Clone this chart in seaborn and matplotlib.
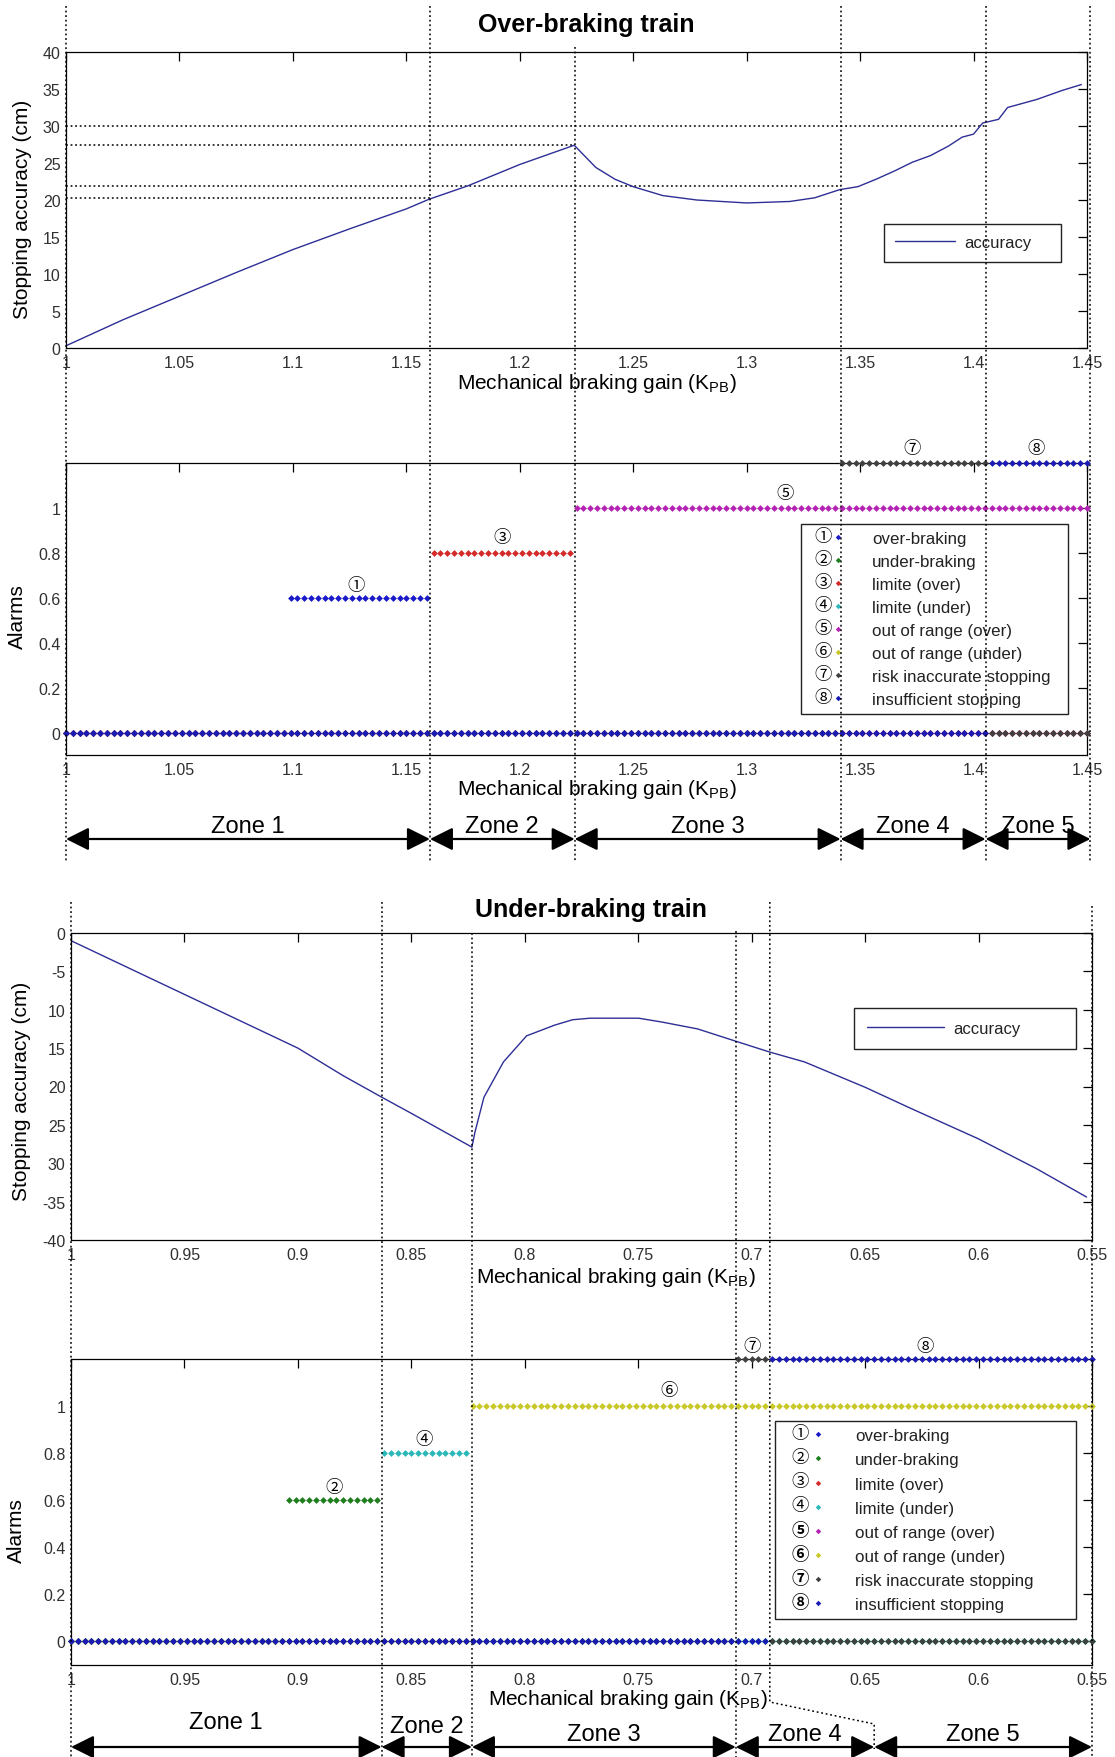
import numpy as np
import matplotlib
matplotlib.use("Agg")
import matplotlib.pyplot as plt
import matplotlib.transforms as mtransforms
from matplotlib.lines import Line2D
from matplotlib.patches import FancyArrowPatch, ArrowStyle
import seaborn as sns

# ---------------------------------------------------------------- data
# Over-braking train: stopping accuracy vs mechanical braking gain
over_gain = [1.000, 1.025, 1.050, 1.075, 1.100, 1.125, 1.150, 1.160, 1.177, 1.200, 1.224,
             1.2335, 1.242, 1.250, 1.263, 1.278, 1.300, 1.319, 1.330, 1.341, 1.349, 1.357,
             1.365, 1.373, 1.381, 1.389, 1.395, 1.400, 1.404, 1.411, 1.415, 1.428, 1.439, 1.4475]
over_accuracy = [0.3, 3.8, 7.0, 10.2, 13.3, 16.1, 18.8, 20.1, 21.9, 24.8, 27.4,
                 24.4, 22.8, 21.8, 20.6, 20.0, 19.6, 19.8, 20.3, 21.4, 21.8, 22.8,
                 23.9, 25.1, 26.0, 27.3, 28.5, 28.9, 30.4, 30.9, 32.5, 33.6, 34.8, 35.6]
over_ref_levels = [30.0, 27.4, 21.9, 20.3]
over_ref_ends = [1.4053, 1.2242, 1.3414, 1.1604]
over_zone_edges = [1.0, 1.1604, 1.2242, 1.3414, 1.4053, 1.4515]
over_xticks = [1.0, 1.05, 1.1, 1.15, 1.2, 1.25, 1.3, 1.35, 1.4, 1.45]
over_xticklabels = ["1", "1.05", "1.1", "1.15", "1.2", "1.25", "1.3", "1.35", "1.4", "1.45"]
over_yticks = [0, 5, 10, 15, 20, 25, 30, 35, 40]
over_yticklabels = ["0", "5", "10", "15", "20", "25", "30", "35", "40"]

# Under-braking train
under_gain = [1.000, 0.975, 0.950, 0.925, 0.900, 0.880, 0.863, 0.850, 0.8233, 0.822, 0.818,
              0.8094, 0.7992, 0.7868, 0.7789, 0.7711, 0.7498, 0.7396, 0.7238, 0.707, 0.6922,
              0.6767, 0.650, 0.6295, 0.6002, 0.5745, 0.5524]
under_accuracy = [-1.0, -4.5, -8.0, -11.5, -15.0, -18.6, -21.4, -23.5, -27.9, -26.0, -21.4,
                  -16.8, -13.4, -12.0, -11.3, -11.1, -11.1, -11.6, -12.5, -14.1, -15.5,
                  -16.8, -20.1, -22.9, -26.8, -30.7, -34.4]
under_zone_edges = [1.0, 0.8631, 0.8233, 0.707, 0.646, 0.55]
under_alarm_split = 0.692
under_xticks = [1.0, 0.95, 0.9, 0.85, 0.8, 0.75, 0.7, 0.65, 0.6, 0.55]
under_xticklabels = ["1", "0.95", "0.9", "0.85", "0.8", "0.75", "0.7", "0.65", "0.6", "0.55"]
under_yticks = [0, -5, -10, -15, -20, -25, -30, -35, -40]
under_yticklabels = ["0", "-5", "10", "15", "20", "25", "30", "-35", "-40"]

alarm_yticks = [0, 0.2, 0.4, 0.6, 0.8, 1.0]
alarm_yticklabels = ["0", "0.2", "0.4", "0.6", "0.8", "1"]

# Alarms (sampled every 0.003 of gain); each alarm is on over a gain range
alarm_step = 0.003
alarm_count = 151
over_alarm_ids = ["①", "③", "⑤", "⑦", "⑧"]
over_alarm_levels = [0.6, 0.8, 1.0, 1.2, 1.2]
over_alarm_ranges = [(1.097, 1.1595), (1.1596, 1.2242), (1.2243, 1.451),
                     (1.3414, 1.4053), (1.4054, 1.451)]
over_alarm_label_x = [1.128, 1.192, 1.317, 1.373, 1.4275]
over_alarm_label_y = [0.655, 0.87, 1.067, 1.265, 1.265]

under_alarm_ids = ["②", "④", "⑥", "⑦", "⑧"]
under_alarm_levels = [0.6, 0.8, 1.0, 1.2, 1.2]
under_alarm_ranges = [(0.8631, 0.905), (0.8233, 0.8630), (0.549, 0.8232),
                      (0.6925, 0.7071), (0.549, 0.6924)]
under_alarm_label_x = [0.884, 0.8445, 0.7366, 0.6998, 0.6235]
under_alarm_label_y = [0.657, 0.86, 1.068, 1.254, 1.254]

legend_ids = ["①", "②", "③", "④", "⑤", "⑥", "⑦", "⑧"]
legend_labels = ["over-braking", "under-braking", "limite (over)", "limite (under)",
                 "out of range (over)", "out of range (under)",
                 "risk inaccurate stopping", "insufficient stopping"]
alarm_colors = {"①": "#1a1ac8", "②": "#1f7f1f", "③": "#d42a2a", "④": "#2ab8b8",
                "⑤": "#b424b4", "⑥": "#c8c828", "⑦": "#404040", "⑧": "#1a1ab4"}

# ---------------------------------------------------------------- style
sns.set_theme(style="white")
plt.rcParams.update({
    "font.family": ["Liberation Sans", "DejaVu Sans"],
    "mathtext.fontset": "custom",
    "mathtext.rm": "Liberation Sans",
    "mathtext.it": "Liberation Sans:italic",
    "mathtext.bf": "Liberation Sans:bold",
    "text.color": "black",
    "axes.labelcolor": "black",
    "axes.edgecolor": "black",
})
CIRC = ["Noto Sans CJK JP", "DejaVu Sans"]
CURVE = "#2e2e96"
DOT = (0, (1.2, 1.8))

W, H = 1115, 1758
fig = plt.figure(figsize=(W / 100, H / 100), dpi=100)
fig.patch.set_facecolor("white")


def fy(p):
    return 1 - p / H


def px_box(l, t, r, b):
    return [l / W, 1 - b / H, (r - l) / W, (b - t) / H]


ax1 = fig.add_axes(px_box(66, 53, 1087, 349))
ax2 = fig.add_axes(px_box(66, 464, 1087, 756))
ax3 = fig.add_axes(px_box(71, 934, 1092, 1241))
ax4 = fig.add_axes(px_box(71, 1360, 1092, 1666))

XLABEL = r"Mechanical braking gain (K$_{\mathrm{PB}}$)"


def style_axes(ax, xticks, xlabels, yticks, ylabels):
    for s in ax.spines.values():
        s.set_visible(True)
        s.set_color("black")
        s.set_linewidth(0.9)
    ax.set_xticks(xticks, xlabels)
    ax.set_yticks(yticks, ylabels)
    ax.tick_params(direction="in", length=6.7, width=0.9, top=True, right=True,
                   labelsize=11.5, labelcolor="#303030", color="black")
    ax.tick_params(axis="x", pad=5)
    ax.tick_params(axis="y", pad=4)
    ax.grid(False)
    ax.set_facecolor("white")


# ---------------------------------------------------------------- panel 1
sns.lineplot(x=over_gain, y=over_accuracy, ax=ax1, color=CURVE, lw=1.0,
             label="accuracy", sort=False)
ax1.hlines(over_ref_levels, xmin=1.0, xmax=over_ref_ends, colors="black",
           linestyles=[DOT], lw=1.1, zorder=1)
ax1.set_xlim(1.0, 1.45)
ax1.set_ylim(0, 40)
style_axes(ax1, over_xticks, over_xticklabels, over_yticks, over_yticklabels)
ax1.set_xlabel(XLABEL, fontsize=15, va="center")
ax1.xaxis.set_label_coords(0.52, -0.115)
ax1.set_ylabel("Stopping accuracy (cm)", fontsize=15, va="center", ha="center")
ax1.yaxis.set_label_coords(-0.043, 0.473)


def acc_legend(ax, left, top, width, hl, bp):
    h, l = ax.get_legend_handles_labels()
    leg = ax.legend(h, l, loc="upper left", bbox_to_anchor=(left, top - 0.1, width, 0.1),
                    mode="expand", borderaxespad=0, frameon=True, fancybox=False,
                    framealpha=1, edgecolor="#222222", fontsize=12, handlelength=hl,
                    handletextpad=0.55, borderpad=bp)
    leg.get_frame().set_linewidth(1.0)
    for t in leg.get_texts():
        t.set_color("#222222")
    return leg


acc_legend(ax1, 0.801, 0.419, 0.1734, 3.6, 0.68)


# ---------------------------------------------------------------- alarm panels
def alarm_panel(ax, start, direction, ids, levels, ranges, lx, ly):
    gain = np.round(start + direction * alarm_step * np.arange(alarm_count), 4)
    for aid, lev, (lo, hi) in zip(ids, levels, ranges):
        vals = np.where((gain >= lo) & (gain <= hi), lev, 0.0)
        sns.scatterplot(x=gain, y=vals, ax=ax, color=alarm_colors[aid], marker="D",
                        s=12, linewidth=0, clip_on=False, legend=False, zorder=3)
    for aid, x, y in zip(ids, lx, ly):
        ax.text(x, y, aid, ha="center", va="center", fontsize=12.5, family=CIRC,
                clip_on=False, zorder=4)


def alarm_legend(ax, left, top, width, hl, htp, ls, offset, bold_from=99):
    handles = [Line2D([], [], ls="none", marker="D", ms=2.8, mew=0,
                      color=alarm_colors[i]) for i in legend_ids]
    leg = ax.legend(handles, legend_labels, loc="upper left",
                    bbox_to_anchor=(left, top - 0.1, width, 0.1), mode="expand",
                    borderaxespad=0, frameon=True, fancybox=False, framealpha=1,
                    edgecolor="#222222", fontsize=12.2, handlelength=hl,
                    handletextpad=htp, borderpad=0.42, labelspacing=ls)
    leg.get_frame().set_linewidth(1.0)
    for t in leg.get_texts():
        t.set_color("#222222")
    for k, hnd in enumerate(leg.legend_handles):
        ax.annotate(legend_ids[k], xy=(0.5, 0.5), xycoords=hnd, xytext=(offset, 1),
                    textcoords="offset points", ha="center", va="center",
                    fontsize=12.5, family=CIRC, zorder=6, annotation_clip=False,
                    fontweight="bold" if k >= bold_from else "normal")
    return leg


alarm_panel(ax2, 1.0, 1, over_alarm_ids, over_alarm_levels, over_alarm_ranges,
            over_alarm_label_x, over_alarm_label_y)
ax2.set_xlim(1.0, 1.45)
ax2.set_ylim(-0.1, 1.2)
style_axes(ax2, over_xticks, over_xticklabels, alarm_yticks, alarm_yticklabels)
ax2.set_xlabel(XLABEL, fontsize=15, va="center")
ax2.xaxis.set_label_coords(0.52, -0.116)
ax2.set_ylabel("Alarms", fontsize=15, va="center", ha="center")
ax2.yaxis.set_label_coords(-0.048, 0.479)
alarm_legend(ax2, 0.72, 0.791, 0.2615, 3.5, 0.25, 0.47, -11.0)

# ---------------------------------------------------------------- panel 3
sns.lineplot(x=under_gain, y=under_accuracy, ax=ax3, color=CURVE, lw=1.0,
             label="accuracy", sort=False)
ax3.set_xlim(1.0, 0.55)
ax3.set_ylim(-40, 0)
style_axes(ax3, under_xticks, under_xticklabels, under_yticks, under_yticklabels)
ax3.set_xlabel(XLABEL, fontsize=15, va="center")
ax3.xaxis.set_label_coords(0.534, -0.12)
ax3.set_ylabel("Stopping accuracy (cm)", fontsize=15, va="center", ha="center")
ax3.yaxis.set_label_coords(-0.048, 0.489)
acc_legend(ax3, 0.767, 0.756, 0.2174, 4.6, 0.78)

# ---------------------------------------------------------------- panel 4
alarm_panel(ax4, 1.0, -1, under_alarm_ids, under_alarm_levels, under_alarm_ranges,
            under_alarm_label_x, under_alarm_label_y)
ax4.set_xlim(1.0, 0.55)
ax4.set_ylim(-0.1, 1.2)
style_axes(ax4, under_xticks, under_xticklabels, alarm_yticks, alarm_yticklabels)
ax4.set_xlabel(XLABEL, fontsize=15, va="center")
ax4.xaxis.set_label_coords(0.545, -0.111)
ax4.set_ylabel("Alarms", fontsize=15, va="center", ha="center")
ax4.yaxis.set_label_coords(-0.053, 0.441)
alarm_legend(ax4, 0.6895, 0.797, 0.2948, 4.2, 0.1, 0.54, -12.4, bold_from=4)

# ---------------------------------------------------------------- titles
fig.text(586 / W, fy(25), "Over-braking train", ha="center", va="center",
         fontsize=18, fontweight="bold")
fig.text(591 / W, fy(910), "Under-braking train", ha="center", va="center",
         fontsize=18, fontweight="bold")

# ---------------------------------------------------------------- zone guides
blend_top = mtransforms.blended_transform_factory(ax1.transData, fig.transFigure)
blend_bot = mtransforms.blended_transform_factory(ax3.transData, fig.transFigure)


def vline(xs, ys, tr):
    ln = Line2D(xs, [fy(v) for v in ys], transform=tr, color="black", lw=1.1,
                ls=DOT, zorder=5)
    fig.add_artist(ln)


top_starts = [7, 7, 48, 7, 7, 7]
for x, y0 in zip(over_zone_edges, top_starts):
    vline([x, x], [y0, 862], blend_top)

bot_lines = [under_zone_edges[0], under_zone_edges[1], under_zone_edges[2],
             under_zone_edges[3], under_zone_edges[5]]
bot_starts = [903, 903, 934, 932, 907]
for x, y0 in zip(bot_lines, bot_starts):
    vline([x, x], [y0, 1758], blend_bot)
vline([under_alarm_split, under_alarm_split, under_zone_edges[4], under_zone_edges[4]],
      [903, 1703, 1725, 1750], blend_bot)

ARROW = ArrowStyle("<|-|>", head_length=14, head_width=7)


def zones(edges, tr, y_arrow, y_text):
    for i in range(len(edges) - 1):
        x0, x1 = edges[i], edges[i + 1]
        arr = FancyArrowPatch((x0, fy(y_arrow)), (x1, fy(y_arrow)), transform=tr,
                              arrowstyle=ARROW, mutation_scale=1, lw=1.6,
                              color="black", shrinkA=0, shrinkB=0, zorder=6)
        fig.add_artist(arr)
        fig.text((x0 + x1) / 2, fy(y_text[i]), f"Zone {i + 1}", transform=tr,
                 ha="center", va="center", fontsize=17)


zones(over_zone_edges, blend_top, 840, [827] * 5)
zones(under_zone_edges, blend_bot, 1748, [1723, 1727, 1735, 1735, 1735])

fig.savefig("out.png", dpi=100, facecolor="white")
